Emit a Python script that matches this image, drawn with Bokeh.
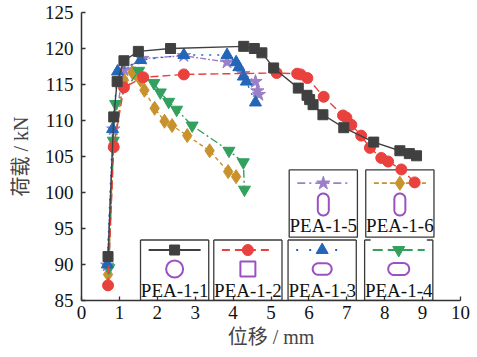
import numpy as np
from bokeh.plotting import figure
from bokeh.models import Range1d, FixedTicker, ColumnDataSource
from bokeh.core.properties import value
from bokeh.embed import file_html
from bokeh.resources import INLINE

# ---------------- data ----------------
names = ["PEA-1-1", "PEA-1-2", "PEA-1-3", "PEA-1-4", "PEA-1-5", "PEA-1-6"]

x1 = [0.70, 0.85, 0.94, 1.12, 1.50, 2.35, 4.28, 4.56, 4.76, 5.07, 5.72, 5.95, 6.02, 6.11, 6.37, 6.92, 7.71, 8.40, 8.65, 8.84]
y1 = [91.1, 110.5, 115.4, 118.3, 119.6, 120.0, 120.3, 120.0, 119.4, 117.3, 114.5, 113.5, 112.9, 112.2, 110.8, 109.0, 107.0, 105.8, 105.4, 105.1]

x2 = [0.70, 0.85, 1.12, 1.63, 2.70, 5.15, 5.69, 5.78, 5.96, 6.39, 6.90, 6.99, 7.12, 7.38, 7.61, 7.91, 8.09, 8.44, 8.79]
y2 = [87.1, 106.3, 114.6, 116.0, 116.4, 116.6, 116.5, 116.4, 115.9, 113.3, 110.7, 110.4, 109.4, 107.9, 106.2, 104.8, 104.3, 103.2, 101.4]

x3 = [0.68, 0.82, 0.95, 1.56, 2.70, 3.84, 4.08, 4.15, 4.27, 4.35, 4.59]
y3 = [90.0, 108.8, 116.8, 118.4, 119.1, 119.1, 118.1, 117.4, 116.1, 115.4, 112.5]

x4 = [0.72, 0.84, 0.90, 1.51, 1.91, 2.08, 2.30, 2.51, 2.92, 3.89, 4.27, 4.30]
y4 = [89.5, 107.2, 112.3, 116.9, 115.2, 113.9, 112.6, 111.5, 109.3, 105.8, 104.2, 100.4]

x5 = [0.68, 0.84, 1.12, 1.60, 2.70, 3.84, 4.27, 4.59, 4.64, 4.68]
y5 = [89.9, 108.8, 117.0, 118.6, 119.0, 118.1, 116.5, 115.4, 114.1, 113.6]

x6 = [0.70, 0.85, 1.12, 1.34, 1.42, 1.56, 1.66, 1.93, 2.19, 2.39, 2.79, 3.38, 3.87, 4.08]
y6 = [88.6, 106.8, 115.6, 116.7, 116.5, 115.6, 114.2, 111.7, 109.9, 109.3, 107.9, 105.8, 102.9, 102.2]

x_ticks = list(range(0, 11))
y_ticks = list(range(85, 126, 5))

# ---------------- styles ----------------
series = [
    (x1, y1, "#404040", "solid", "square", 10),
    (x2, y2, "#e8413e", "8 4", "circle", 11),
    (x3, y3, "#2366b8", "2 6", "triangle", 12),
    (x4, y4, "#33a05e", "8 3 2 3", "inverted_triangle", 12),
    (x5, y5, "#9b80c8", "6 2 2 2", "star", 14),
    (x6, y6, "#c8922c", "4 3", "diamond", 14),
]
legend_dash = ["solid", "8 5", "2 11", "10 5", "8 4 2 4", "5 3"]
draw_order = [5, 4, 3, 2, 1, 0]

SERIF = "Liberation Serif, Noto Sans CJK SC"

p = figure(width=477, height=357, x_range=Range1d(0, 10), y_range=Range1d(85, 125),
           output_backend="svg", toolbar_location=None,
           min_border_left=81, min_border_right=17, min_border_top=12, min_border_bottom=57)
p.outline_line_color = None
p.xgrid.visible = False
p.ygrid.visible = False
p.background_fill_color = "white"

# pixel scale helpers (frame 379 x 288 px)
PX_X = 10 / 379.0
PX_Y = 40 / 288.0

# ---------------- legend boxes (layout) ----------------
box_w = 1.80
box_left = [1.557, 3.49, 5.45, 7.47, 5.48, 7.50]
box_bottom = [85.0, 85.0, 85.0, 85.0, 93.8, 93.8]
box_top = [93.4, 93.4, 93.4, 93.4, 103.15, 103.15]

for i in range(6):
    l, b, t = box_left[i], box_bottom[i], box_top[i]
    p.quad(left=[l], right=[l + box_w], bottom=[b], top=[t], fill_color="white",
           line_color=None)
    p.line([l, l, l + box_w, l + box_w], [t, b, b, t], line_color="#3a3a3a", line_width=1.3)
    if i == 3:
        seg = 6 * PX_X
        p.line([l, l + seg], [t, t], line_color="#3a3a3a", line_width=1.3)
        p.line([l + box_w - seg, l + box_w], [t, t], line_color="#3a3a3a", line_width=1.3)
    else:
        p.line([l, l + box_w], [t, t], line_color="#3a3a3a", line_width=1.3)

# legend contents
purple = "#9b51c0"
for i in range(6):
    xs, ys, col, dash, mk, sz = series[i]
    cx = box_left[i] + box_w / 2
    top = box_top[i]
    if i < 4:
        ly = top - 10 * PX_Y
        sy = top - 29 * PX_Y
        ty = top - 50 * PX_Y
    else:
        ly = top - 13.4 * PX_Y
        sy = top - 34.7 * PX_Y
        ty = top - 55.2 * PX_Y
    half = 26 * PX_X
    p.line([cx - half, cx + half], [ly, ly], line_color=col, line_width=1.8, line_dash=legend_dash[i])
    p.scatter([cx], [ly], marker=mk, size=sz, fill_color=col, line_color=col)
    # purple shape
    if i == 0:
        p.scatter([cx], [sy], marker="circle", size=17, fill_color=None, line_color=purple, line_width=2)
    elif i == 1:
        p.scatter([cx], [sy], marker="square", size=15, fill_color=None, line_color=purple, line_width=2)
    else:
        if i in (2, 3):
            w, h = (19, 11.5) if i == 2 else (21, 12)
        else:
            w, h = 11, 22
        r = min(w, h) / 2.0
        t = np.linspace(0, np.pi, 20)
        if w >= h:
            ox = (w / 2 - r)
            px = np.concatenate([ox + r * np.sin(t), -ox - r * np.sin(t)])
            py = np.concatenate([r * np.cos(t), -r * np.cos(t)])
        else:
            oy = (h / 2 - r)
            px = np.concatenate([r * np.cos(t), -r * np.cos(t)])
            py = np.concatenate([oy + r * np.sin(t), -oy - r * np.sin(t)])
        px = np.append(px, px[0])
        py = np.append(py, py[0])
        p.line(cx + px * PX_X, sy + py * PX_Y, line_color=purple, line_width=2)
    p.text([cx], [ty], text=[names[i]], text_font=value("Liberation Serif"),
           text_font_size="19px", text_align="center", text_baseline="middle",
           text_color="#111111")

# ---------------- data series ----------------
for k in draw_order:
    xs, ys, col, dash, mk, sz = series[k]
    src = ColumnDataSource(dict(x=xs, y=ys))
    p.line("x", "y", source=src, line_color=col, line_width=1.4, line_dash=dash)
    p.scatter("x", "y", source=src, marker=mk, size=sz, fill_color=col, line_color=col)

# ---------------- axes ----------------
p.xaxis.ticker = FixedTicker(ticks=x_ticks)
p.yaxis.ticker = FixedTicker(ticks=y_ticks)
for ax in (p.xaxis[0], p.yaxis[0]):
    ax.axis_line_color = "#333333"
    ax.axis_line_width = 1.5
    ax.major_tick_line_color = "#333333"
    ax.major_tick_line_width = 1.3
    ax.major_tick_in = 4
    ax.major_tick_out = 0
    ax.minor_tick_line_color = None
    ax.major_label_text_font = "Liberation Serif"
    ax.major_label_text_font_size = "19px"
    ax.major_label_text_color = "#111111"
    ax.axis_label_text_font = SERIF
    ax.axis_label_text_font_size = "20px"
    ax.axis_label_text_font_style = "normal"
    ax.axis_label_text_color = "#444444"

p.xaxis.axis_label = "位移 / mm"
p.yaxis.axis_label = "荷载 / kN"
p.xaxis.major_label_standoff = 5
p.yaxis.major_label_standoff = 8
p.xaxis.axis_label_standoff = 4
p.yaxis.axis_label_standoff = 10

open("out.html", "w").write(file_html(p, INLINE))
